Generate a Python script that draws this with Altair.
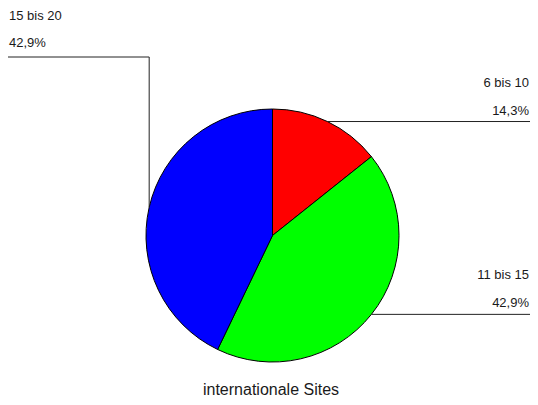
import math
import altair as alt
import pandas as pd

categories = ["6 bis 10", "11 bis 15", "15 bis 20"]
values = [1, 3, 3]
colors = ["#ff0000", "#00ff00", "#0000ff"]
title_text = "internationale Sites"

W, H = 522, 389
CX, CY, R = 264.5, 227.5, 126.5
LEFT_LINE_Y = 49
FONT = "Liberation Sans"

total = sum(values)
pcts = [f"{v / total * 100:.1f}".replace(".", ",") + "%" for v in values]

pie_df = pd.DataFrame({"cat": categories, "value": values, "idx": list(range(len(values)))})

line_rows, right_txt, left_txt = [], [], []
cum = 0
for i, (c, v, p) in enumerate(zip(categories, values, pcts)):
    mid = (cum + v / 2) / total * 2 * math.pi
    cum += v
    ex = CX + R * math.sin(mid)
    ey = CY - R * math.cos(mid)
    if math.sin(mid) >= 0:
        pts = [(ex, ey), (W, ey)]
        right_txt += [dict(x=W - 1, y=ey - 35, t=c), dict(x=W - 1, y=ey - 7, t=p)]
    else:
        pts = [(ex, ey), (ex, LEFT_LINE_Y), (0, LEFT_LINE_Y)]
        left_txt += [dict(x=1, y=LEFT_LINE_Y - 37, t=c), dict(x=1, y=LEFT_LINE_Y - 10, t=p)]
    for k, (px, py) in enumerate(pts):
        line_rows.append(dict(seg=c, o=k, x=px, y=py))

lines_df = pd.DataFrame(line_rows)
rt_df = pd.DataFrame(right_txt)
lt_df = pd.DataFrame(left_txt)

xs = alt.Scale(domain=[0, W], range=[0, W], nice=False, zero=False)
ys = alt.Scale(domain=[0, H], range=[0, H], nice=False, zero=False)

pie = alt.Chart(pie_df).mark_arc(stroke="black", strokeWidth=1).encode(
    theta=alt.Theta("value:Q", stack=True),
    order=alt.Order("idx:Q"),
    color=alt.Color("cat:N", scale=alt.Scale(domain=categories, range=colors), legend=None),
    x=alt.value(CX),
    y=alt.value(CY),
    radius=alt.value(R),
)

leaders = alt.Chart(lines_df).mark_line(color="#222222", strokeWidth=1).encode(
    x=alt.X("x:Q", scale=xs, axis=None),
    y=alt.Y("y:Q", scale=ys, axis=None),
    detail="seg:N",
    order="o:Q",
)

rtext = alt.Chart(rt_df).mark_text(align="right", baseline="alphabetic", font=FONT, fontSize=13, color="#1a1a1a").encode(
    x=alt.X("x:Q", scale=xs, axis=None),
    y=alt.Y("y:Q", scale=ys, axis=None),
    text="t:N",
)

ltext = alt.Chart(lt_df).mark_text(align="left", baseline="alphabetic", font=FONT, fontSize=13, color="#1a1a1a").encode(
    x=alt.X("x:Q", scale=xs, axis=None),
    y=alt.Y("y:Q", scale=ys, axis=None),
    text="t:N",
)

title = alt.Chart(pd.DataFrame({"t": [title_text]})).mark_text(
    align="center", baseline="alphabetic", font=FONT, fontSize=16, color="#1a1a1a"
).encode(x=alt.value(263), y=alt.value(386.5), text="t:N")

chart = alt.layer(pie, leaders, rtext, ltext, title).properties(
    width=W, height=H, padding=0, autosize="none"
).configure_view(stroke=None)

chart.save("out.html", embed_options={"renderer": "svg", "actions": False})
